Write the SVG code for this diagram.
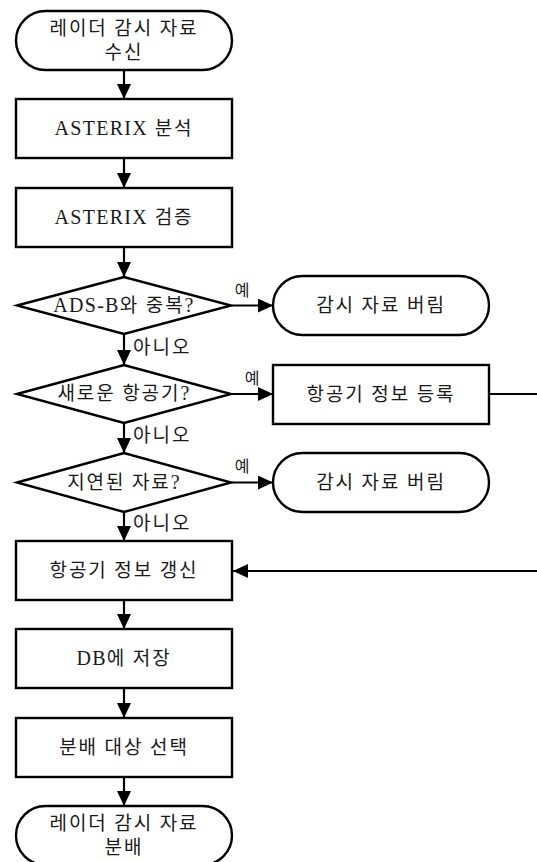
<svg xmlns="http://www.w3.org/2000/svg" width="537" height="862" viewBox="0 0 537 862">
<style>
.s{fill:#fff;stroke:#000;stroke-width:2.4}
.c{fill:none;stroke:#000;stroke-width:2.2}
.t{font-family:"Liberation Serif","Noto Sans CJK KR",serif;font-size:19px;letter-spacing:1.9px;fill:#1a1a1a;text-anchor:middle}
.l{font-family:"Liberation Serif","Noto Sans CJK KR",serif;font-size:19px;letter-spacing:2px;fill:#1a1a1a}
.y{font-family:"Noto Sans CJK KR",sans-serif;font-size:16px;fill:#1a1a1a;text-anchor:middle}
.e{font-size:20px;letter-spacing:1.3px}
</style>
<defs>
<marker id="a" markerUnits="userSpaceOnUse" markerWidth="15" markerHeight="14" refX="15" refY="7" orient="auto">
<path d="M0,0 L15,7 L0,14 z" fill="#000"/>
</marker>
</defs>
<rect width="537" height="862" fill="#fff"/>
<g id="connectors">
<line class="c" x1="124" y1="70" x2="124" y2="99" marker-end="url(#a)"/>
<line class="c" x1="124" y1="158" x2="124" y2="188" marker-end="url(#a)"/>
<line class="c" x1="124" y1="247" x2="124" y2="277" marker-end="url(#a)"/>
<line class="c" x1="124" y1="334" x2="124" y2="365" marker-end="url(#a)"/>
<line class="c" x1="124" y1="423" x2="124" y2="453" marker-end="url(#a)"/>
<line class="c" x1="124" y1="512" x2="124" y2="541" marker-end="url(#a)"/>
<line class="c" x1="124" y1="600" x2="124" y2="629" marker-end="url(#a)"/>
<line class="c" x1="124" y1="688" x2="124" y2="718" marker-end="url(#a)"/>
<line class="c" x1="124" y1="777" x2="124" y2="806" marker-end="url(#a)"/>
<line class="c" x1="231" y1="305.5" x2="273" y2="305.5" marker-end="url(#a)"/>
<line class="c" x1="231" y1="394" x2="273" y2="394" marker-end="url(#a)"/>
<line class="c" x1="231" y1="482.5" x2="273" y2="482.5" marker-end="url(#a)"/>
<path class="c" d="M489,394 H560 V571 H233" marker-end="url(#a)"/>
<text class="y" x="242" y="296">예</text>
<text class="y" x="252" y="384">예</text>
<text class="y" x="242" y="472">예</text>
<text class="l" x="133" y="354">아니오</text>
<text class="l" x="133" y="442">아니오</text>
<text class="l" x="133" y="530">아니오</text>
</g>
<g id="start">
<rect class="s" x="16" y="11" width="216" height="59" rx="29.5"/>
<text class="t" x="124" y="35">레이더 감시 자료</text>
<text class="t" x="124" y="59">수신</text>
</g>
<g id="parse">
<rect class="s" x="16" y="99" width="216" height="59"/>
<text class="t" x="124" y="135"><tspan class="e">ASTERIX</tspan> 분석</text>
</g>
<g id="verify">
<rect class="s" x="16" y="188" width="216" height="59"/>
<text class="t" x="124" y="224"><tspan class="e">ASTERIX</tspan> 검증</text>
</g>
<g id="dup">
<polygon class="s" points="17,305.5 124,277 231,305.5 124,334"/>
<text class="t" x="124" y="312"><tspan class="e">ADS-B</tspan>와 중복<tspan class="e">?</tspan></text>
</g>
<g id="discard1">
<rect class="s" x="273" y="276" width="216" height="59" rx="29.5"/>
<text class="t" x="381" y="312">감시 자료 버림</text>
</g>
<g id="newac">
<polygon class="s" points="17,394 124,365 231,394 124,423"/>
<text class="t" x="124" y="400">새로운 항공기<tspan class="e">?</tspan></text>
</g>
<g id="register">
<rect class="s" x="273" y="365" width="216" height="59"/>
<text class="t" x="381" y="401">항공기 정보 등록</text>
</g>
<g id="delayed">
<polygon class="s" points="17,482.5 124,453 231,482.5 124,512"/>
<text class="t" x="124" y="489">지연된 자료<tspan class="e">?</tspan></text>
</g>
<g id="discard2">
<rect class="s" x="273" y="453" width="216" height="59" rx="29.5"/>
<text class="t" x="381" y="489">감시 자료 버림</text>
</g>
<g id="update">
<rect class="s" x="16" y="541" width="216" height="59"/>
<text class="t" x="124" y="577">항공기 정보 갱신</text>
</g>
<g id="store">
<rect class="s" x="16" y="629" width="216" height="59"/>
<text class="t" x="124" y="665"><tspan class="e">DB</tspan>에 저장</text>
</g>
<g id="select">
<rect class="s" x="16" y="718" width="216" height="59"/>
<text class="t" x="124" y="754">분배 대상 선택</text>
</g>
<g id="end">
<rect class="s" x="16" y="806" width="216" height="59" rx="29.5"/>
<text class="t" x="124" y="830">레이더 감시 자료</text>
<text class="t" x="124" y="854">분배</text>
</g>
</svg>
